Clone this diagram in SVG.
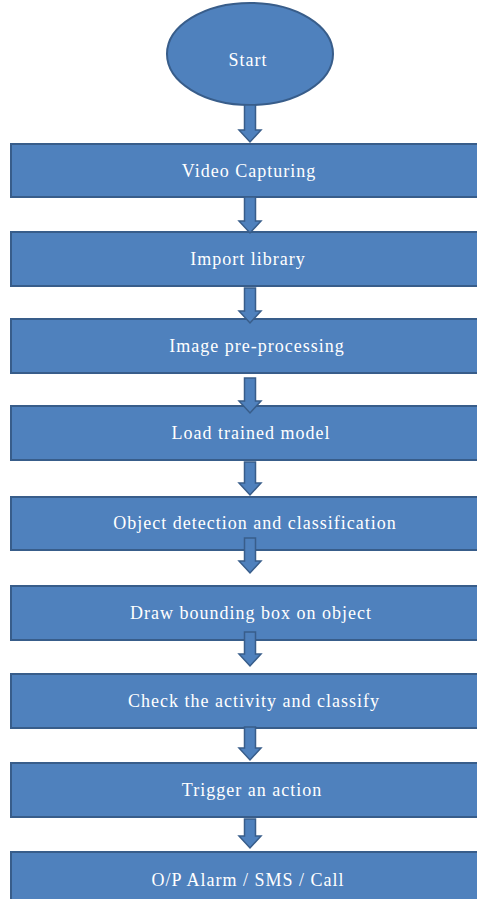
<svg xmlns="http://www.w3.org/2000/svg" width="477" height="899" viewBox="0 0 477 899">
<style>
.shape{fill:#4F81BD;stroke:#385D8A;stroke-width:2}
.arrow{fill:#4F81BD;stroke:#385D8A;stroke-width:1.5;stroke-linejoin:miter}
.label{fill:#FFFFFF;font-family:"Liberation Serif","Times New Roman",serif;font-size:18px;letter-spacing:1px;text-anchor:middle}
</style>
<rect width="477" height="899" fill="#FFFFFF"/>
<g id="start">
<ellipse class="shape" cx="250" cy="54" rx="83" ry="51"/>
<text class="label" x="248" y="66">Start</text>
</g>
<g id="video-capturing">
<rect class="shape" x="11" y="144" width="480" height="53"/>
<text class="label" x="249" y="177">Video Capturing</text>
</g>
<g id="import-library">
<rect class="shape" x="11" y="232" width="480" height="54"/>
<text class="label" x="248" y="265">Import library</text>
</g>
<g id="image-preprocessing">
<rect class="shape" x="11" y="319" width="480" height="54"/>
<text class="label" x="257" y="352">Image pre-processing</text>
</g>
<g id="load-trained-model">
<rect class="shape" x="11" y="406" width="480" height="54"/>
<text class="label" x="251" y="439">Load trained model</text>
</g>
<g id="object-detection">
<rect class="shape" x="11" y="497" width="480" height="53"/>
<text class="label" x="255" y="529">Object detection and classification</text>
</g>
<g id="draw-bounding-box">
<rect class="shape" x="11" y="586" width="480" height="54"/>
<text class="label" x="251" y="619">Draw bounding box on object</text>
</g>
<g id="check-activity">
<rect class="shape" x="11" y="674" width="480" height="54"/>
<text class="label" x="254" y="707">Check the activity and classify</text>
</g>
<g id="trigger-action">
<rect class="shape" x="11" y="763" width="480" height="54"/>
<text class="label" x="252" y="796">Trigger  an action</text>
</g>
<g id="output">
<rect class="shape" x="11" y="852" width="480" height="60"/>
<text class="label" x="248" y="886">O/P Alarm / SMS / Call</text>
</g>
<g id="connectors">
<path class="arrow" d="M244.5,105 H255.5 V130 H261 L250,142 L239,130 H244.5 Z"/>
<path class="arrow" d="M244.5,197 H255.5 V221 H261 L250,233 L239,221 H244.5 Z"/>
<path class="arrow" d="M244.5,288 H255.5 V311 H261 L250,323 L239,311 H244.5 Z"/>
<path class="arrow" d="M244.5,378 H255.5 V401 H261 L250,413 L239,401 H244.5 Z"/>
<path class="arrow" d="M244.5,462 H255.5 V483 H261 L250,495 L239,483 H244.5 Z"/>
<path class="arrow" d="M244.5,538 H255.5 V561 H261 L250,573 L239,561 H244.5 Z"/>
<path class="arrow" d="M244.5,632 H255.5 V654 H261 L250,666 L239,654 H244.5 Z"/>
<path class="arrow" d="M244.5,727 H255.5 V748 H261 L250,760 L239,748 H244.5 Z"/>
<path class="arrow" d="M244.5,819 H255.5 V836 H261 L250,848 L239,836 H244.5 Z"/>
</g>
</svg>
